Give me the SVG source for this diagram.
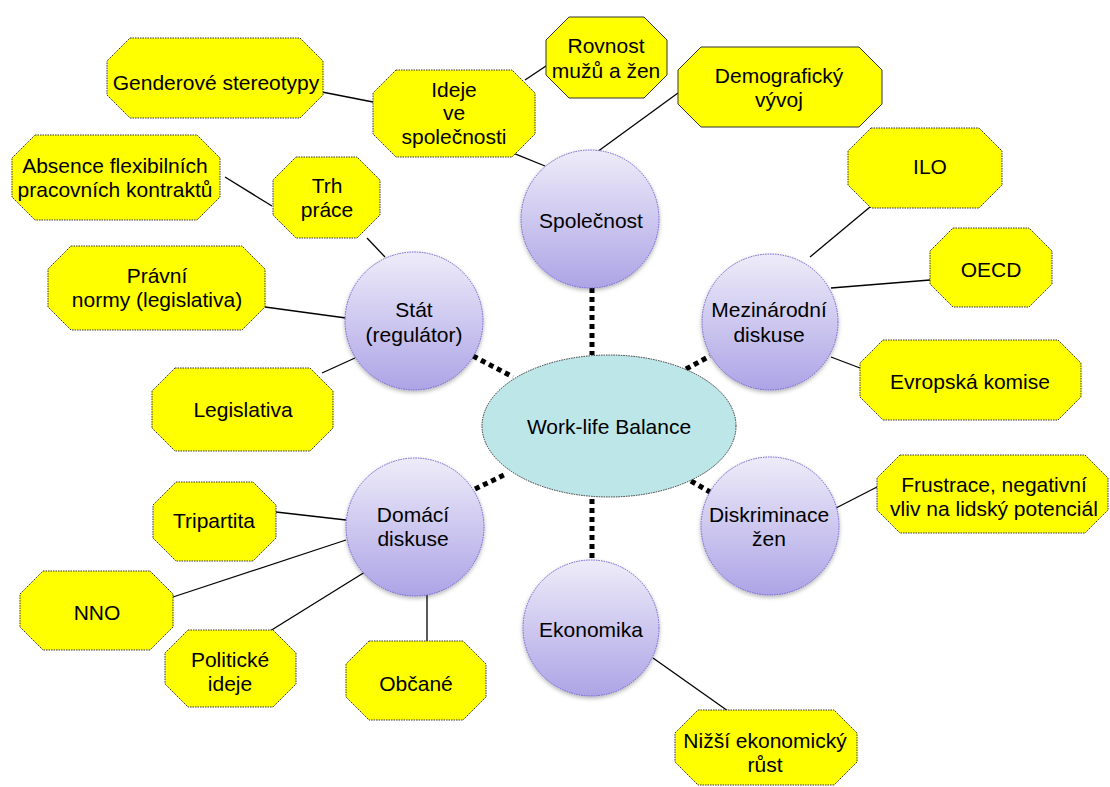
<svg xmlns="http://www.w3.org/2000/svg" width="1110" height="787" viewBox="0 0 1110 787">
<defs>
<linearGradient id="cg" x1="0" y1="0" x2="0" y2="1">
<stop offset="0" stop-color="#EEECF9"/>
<stop offset="1" stop-color="#ADA4E6"/>
</linearGradient>
<filter id="sh" x="-20%" y="-20%" width="140%" height="140%">
<feDropShadow dx="0" dy="2" stdDeviation="2" flood-color="#000" flood-opacity="0.3"/>
</filter>
</defs>
<style>
text{font-family:"Liberation Sans",Arial,sans-serif;font-size:21px;fill:#000;text-anchor:middle}
.oct{fill:#FFFF00;stroke:#333;stroke-width:1;stroke-dasharray:1.5 1}
.octs{fill:#FFFF00;stroke:#333;stroke-width:1}
.cir{fill:url(#cg);stroke:#6E5FD0;stroke-width:1;stroke-dasharray:1.5 1;filter:url(#sh)}
.cen{fill:#BDE6E8;stroke:#333;stroke-width:1;stroke-dasharray:1.5 1}
.thin{stroke:#000;stroke-width:1.3;fill:none}
.dot{stroke:#000;stroke-width:5;stroke-dasharray:5 4;fill:none}
</style>
<rect width="1110" height="787" fill="#fff"/>
<g id="connectors">
<line class="dot" x1="592" y1="288" x2="592" y2="355"/>
<line class="dot" x1="592" y1="499" x2="592" y2="560"/>
<line class="dot" x1="473" y1="356" x2="513" y2="377"/>
<line class="dot" x1="475" y1="489" x2="506" y2="474"/>
<line class="dot" x1="686" y1="369" x2="710" y2="356"/>
<line class="dot" x1="691" y1="481" x2="710" y2="492"/>
<line class="thin" x1="322" y1="92" x2="373" y2="102"/>
<line class="thin" x1="525" y1="80" x2="555" y2="60"/>
<line class="thin" x1="498" y1="147" x2="545" y2="166"/>
<line class="thin" x1="678" y1="93" x2="597" y2="152"/>
<line class="thin" x1="225" y1="177" x2="272" y2="206"/>
<line class="thin" x1="367" y1="238" x2="385" y2="257"/>
<line class="thin" x1="265" y1="307" x2="346" y2="318"/>
<line class="thin" x1="322" y1="373" x2="355" y2="358"/>
<line class="thin" x1="276" y1="512" x2="346" y2="520"/>
<line class="thin" x1="173" y1="597" x2="346" y2="540"/>
<line class="thin" x1="270" y1="631" x2="365" y2="572"/>
<line class="thin" x1="427" y1="641" x2="427" y2="595"/>
<line class="thin" x1="870" y1="207" x2="810" y2="257"/>
<line class="thin" x1="930" y1="280" x2="831" y2="288"/>
<line class="thin" x1="860" y1="368" x2="831" y2="357"/>
<line class="thin" x1="877" y1="487" x2="836" y2="508"/>
<line class="thin" x1="653" y1="658" x2="728" y2="711"/>
</g>
<g id="center">
<ellipse class="cen" cx="609" cy="426" rx="127" ry="71"/>
<text x="609" y="434">Work-life Balance</text>
</g>
<g id="spolecnost">
<circle class="cir" cx="590" cy="219" r="69"/>
<text x="591" y="228">Společnost</text>
</g>
<g id="stat">
<circle class="cir" cx="414" cy="321" r="69"/>
<text x="414" y="317">Stát</text>
<text x="414" y="342">(regulátor)</text>
</g>
<g id="mezinarodni">
<circle class="cir" cx="770" cy="322" r="68"/>
<text x="769" y="317">Mezinárodní</text>
<text x="769" y="342">diskuse</text>
</g>
<g id="domaci">
<circle class="cir" cx="415" cy="527" r="69"/>
<text x="413" y="522">Domácí</text>
<text x="413" y="546">diskuse</text>
</g>
<g id="diskriminace">
<circle class="cir" cx="770" cy="526" r="69"/>
<text x="769" y="522">Diskriminace</text>
<text x="769" y="546">žen</text>
</g>
<g id="ekonomika">
<circle class="cir" cx="591" cy="628" r="68"/>
<text x="591" y="637">Ekonomika</text>
</g>
<g id="gender">
<path class="oct" d="M130,38 h170 l23,23 v34 l-23,23 h-170 l-23,-23 v-34 z"/>
<text x="216" y="90">Genderové stereotypy</text>
</g>
<g id="ideje">
<path class="oct" d="M396,70 h116 l23,23 v41 l-23,23 h-116 l-23,-23 v-41 z"/>
<text x="454" y="97">Ideje</text>
<text x="454" y="120">ve</text>
<text x="454" y="144">společnosti</text>
</g>
<g id="rovnost">
<path class="octs" d="M569,17 h75 l23,23 v35 l-23,23 h-75 l-23,-23 v-35 z"/>
<text x="606" y="53">Rovnost</text>
<text x="606" y="78">mužů a žen</text>
</g>
<g id="demograficky">
<path class="octs" d="M701,47 h158 l23,23 v34 l-23,23 h-158 l-23,-23 v-34 z"/>
<text x="779" y="83">Demografický</text>
<text x="779" y="107">vývoj</text>
</g>
<g id="absence">
<path class="oct" d="M35,135 h162 l23,23 v39 l-23,23 h-162 l-23,-23 v-39 z"/>
<text x="115" y="173">Absence flexibilních</text>
<text x="115" y="197">pracovních kontraktů</text>
</g>
<g id="trh">
<path class="oct" d="M296,157 h61 l23,23 v35 l-23,23 h-61 l-23,-23 v-35 z"/>
<text x="327" y="193">Trh</text>
<text x="327" y="217">práce</text>
</g>
<g id="pravni">
<path class="oct" d="M71,246 h171 l23,23 v38 l-23,23 h-171 l-23,-23 v-38 z"/>
<text x="157" y="283">Právní</text>
<text x="157" y="307">normy (legislativa)</text>
</g>
<g id="legislativa">
<path class="oct" d="M175,368 h135 l23,23 v37 l-23,23 h-135 l-23,-23 v-37 z"/>
<text x="243" y="417">Legislativa</text>
</g>
<g id="tripartita">
<path class="oct" d="M176,482 h77 l23,23 v33 l-23,23 h-77 l-23,-23 v-33 z"/>
<text x="214" y="528">Tripartita</text>
</g>
<g id="nno">
<path class="oct" d="M43,571 h107 l23,23 v33 l-23,23 h-107 l-23,-23 v-33 z"/>
<text x="97" y="620">NNO</text>
</g>
<g id="politicke">
<path class="oct" d="M188,630 h85 l23,23 v31 l-23,23 h-85 l-23,-23 v-31 z"/>
<text x="230" y="667">Politické</text>
<text x="230" y="691">ideje</text>
</g>
<g id="obcane">
<path class="oct" d="M369,641 h94 l23,23 v33 l-23,23 h-94 l-23,-23 v-33 z"/>
<text x="416" y="691">Občané</text>
</g>
<g id="ilo">
<path class="oct" d="M871,128 h108 l23,23 v34 l-23,23 h-108 l-23,-23 v-34 z"/>
<text x="930" y="174">ILO</text>
</g>
<g id="oecd">
<path class="oct" d="M953,228 h76 l23,23 v33 l-23,23 h-76 l-23,-23 v-33 z"/>
<text x="991" y="277">OECD</text>
</g>
<g id="evropska">
<path class="oct" d="M883,340 h175 l23,23 v34 l-23,23 h-175 l-23,-23 v-34 z"/>
<text x="970" y="389">Evropská komise</text>
</g>
<g id="frustrace">
<path class="oct" d="M900,455 h185 l23,23 v32 l-23,23 h-185 l-23,-23 v-32 z"/>
<text x="994" y="492">Frustrace, negativní</text>
<text x="994" y="516">vliv na lidský potenciál</text>
</g>
<g id="nizsi">
<path class="oct" d="M698,710 h136 l23,23 v29 l-23,23 h-136 l-23,-23 v-29 z"/>
<text x="765" y="748">Nižší ekonomický</text>
<text x="765" y="772">růst</text>
</g>
</svg>
